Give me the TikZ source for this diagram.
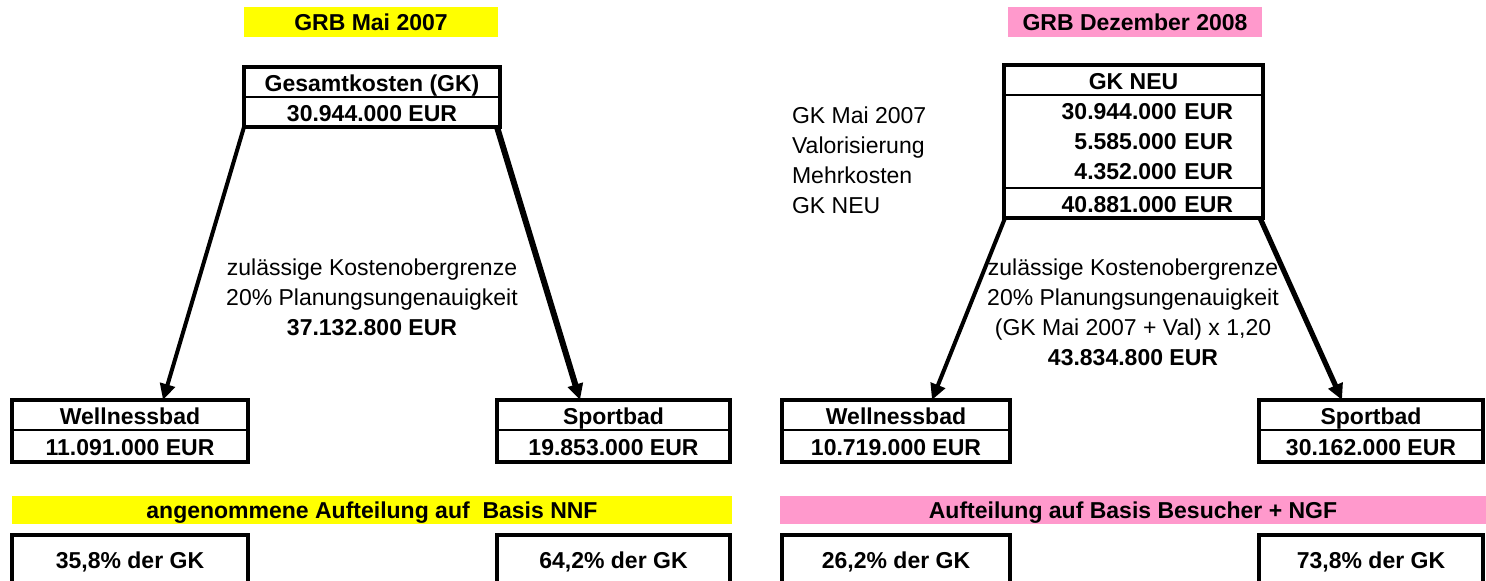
\documentclass[tikz,border=0pt]{standalone}
\usepackage{fontspec}
\setmainfont{Liberation Sans}
\usetikzlibrary{positioning, arrows.meta, calc}
\definecolor{grbYellow}{HTML}{FFFF00}
\definecolor{grbPink}{HTML}{FF99CC}

\begin{document}
\begin{tikzpicture}[x=0.5pt, y=-0.5pt, every node/.style={align=center, font=\fontsize{11.5}{15}\selectfont}]
    \tikzset{cell/.style={draw, line width=1.4pt, inner sep=0pt, outer sep=0pt, minimum height=15pt, font=\fontsize{11.5}{15}\selectfont\bfseries},
      row/.style={cell, text height=9.5pt, text depth=0.5pt},
      frame/.style={line width=2.2pt},
      banner/.style={inner sep=0pt, minimum height=15pt, text height=9pt, text depth=1pt, font=\fontsize{11.5}{15}\selectfont\bfseries},
      costarrow/.style={-{Triangle[length=8pt,width=7.5pt]}, line width=2pt}}
    \useasboundingbox (0,0) rectangle (1486,580);
    \clip (0,0) rectangle (1486,580);
    \node[banner, fill=grbYellow, minimum width=127pt] (titleMai) at (371,22) {GRB Mai 2007};
    \node[banner, fill=grbPink, minimum width=127pt] (titleDez) at (1135,22) {GRB Dezember 2008};
    % GRB Mai 2007
    \node[row, minimum width=128pt, anchor=north] (gkHead) at (372,67) {Gesamtkosten (GK)};
    \node[row, minimum width=128pt, below=0pt of gkHead] (gkVal) {30.944.000 EUR};
    \draw[frame] (gkHead.north west) rectangle (gkVal.south east);
    \node (limitMai) at (372,297) {zulässige Kostenobergrenze\\20\% Planungsungenauigkeit\\\textbf{37.132.800 EUR}};
    \node[row, minimum width=118pt, anchor=north] (wellMaiHead) at (130,400) {Wellnessbad};
    \node[row, minimum width=118pt, minimum height=16pt, below=0pt of wellMaiHead] (wellMaiVal) {11.091.000 EUR};
    \draw[frame] (wellMaiHead.north west) rectangle (wellMaiVal.south east);
    \node[row, minimum width=116.5pt, anchor=north] (sportMaiHead) at (613.5,400) {Sportbad};
    \node[row, minimum width=116.5pt, minimum height=16pt, below=0pt of sportMaiHead] (sportMaiVal) {19.853.000 EUR};
    \draw[frame] (sportMaiHead.north west) rectangle (sportMaiVal.south east);
    \draw[costarrow] (gkVal.south west) -- ($(wellMaiHead.north)+(33,0)$);
    \draw[costarrow, line width=3pt] ($(gkVal.south east)+(-3,0)$) -- ($(sportMaiHead.north)+(-33.5,0)$);
    \node[banner, fill=grbYellow, minimum width=360pt, minimum height=14pt] (basisMai) at (372,510) {angenommene Aufteilung auf\ \ Basis NNF};
    \node[row, line width=2.2pt, minimum width=118pt, minimum height=24pt, anchor=north] (shareWellMai) at (130,535) {35,8\% der GK};
    \node[row, line width=2.2pt, minimum width=116.5pt, minimum height=24pt, anchor=north] (shareSportMai) at (613.5,535) {64,2\% der GK};
    % GRB Dezember 2008
    \node[row, minimum width=129.5pt, anchor=north] (neuHead) at (1133.5,65) {GK NEU};
    \node[cell, minimum width=129.5pt, minimum height=46.5pt, below=0pt of neuHead, align=right, text width=99.5pt] (neuParts) {30.944.000 EUR\\5.585.000 EUR\\4.352.000 EUR};
    \node[row, minimum width=129.5pt, below=0pt of neuParts, align=right, text width=99.5pt] (neuSum) {40.881.000 EUR};
    \draw[frame] (neuHead.north west) rectangle (neuSum.south east);
    \node[anchor=west, align=left] (neuLabels) at (785,160) {GK Mai 2007\\Valorisierung\\Mehrkosten\\GK NEU};
    \node (limitDez) at (1133,312) {zulässige Kostenobergrenze\\20\% Planungsungenauigkeit\\(GK Mai 2007 + Val) x 1,20\\\textbf{43.834.800 EUR}};
    \node[row, minimum width=114pt, anchor=north] (wellDezHead) at (896,400) {Wellnessbad};
    \node[row, minimum width=114pt, minimum height=16pt, below=0pt of wellDezHead] (wellDezVal) {10.719.000 EUR};
    \draw[frame] (wellDezHead.north west) rectangle (wellDezVal.south east);
    \node[row, minimum width=112pt, anchor=north] (sportDezHead) at (1371,400) {Sportbad};
    \node[row, minimum width=112pt, minimum height=16pt, below=0pt of sportDezHead] (sportDezVal) {30.162.000 EUR};
    \draw[frame] (sportDezHead.north west) rectangle (sportDezVal.south east);
    \draw[costarrow] ($(neuSum.south west)+(1,0)$) -- ($(wellDezHead.north)+(36,0)$);
    \draw[costarrow, line width=2.6pt] ($(neuSum.south east)+(-3,0)$) -- ($(sportDezHead.north)+(-29,0)$);
    \node[banner, fill=grbPink, minimum width=353pt, minimum height=14pt] (basisDez) at (1133,510) {Aufteilung auf Basis Besucher + NGF};
    \node[row, line width=2.2pt, minimum width=114pt, minimum height=24pt, anchor=north] (shareWellDez) at (896,535) {26,2\% der GK};
    \node[row, line width=2.2pt, minimum width=112pt, minimum height=24pt, anchor=north] (shareSportDez) at (1371,535) {73,8\% der GK};
  \end{tikzpicture}
\end{document}
